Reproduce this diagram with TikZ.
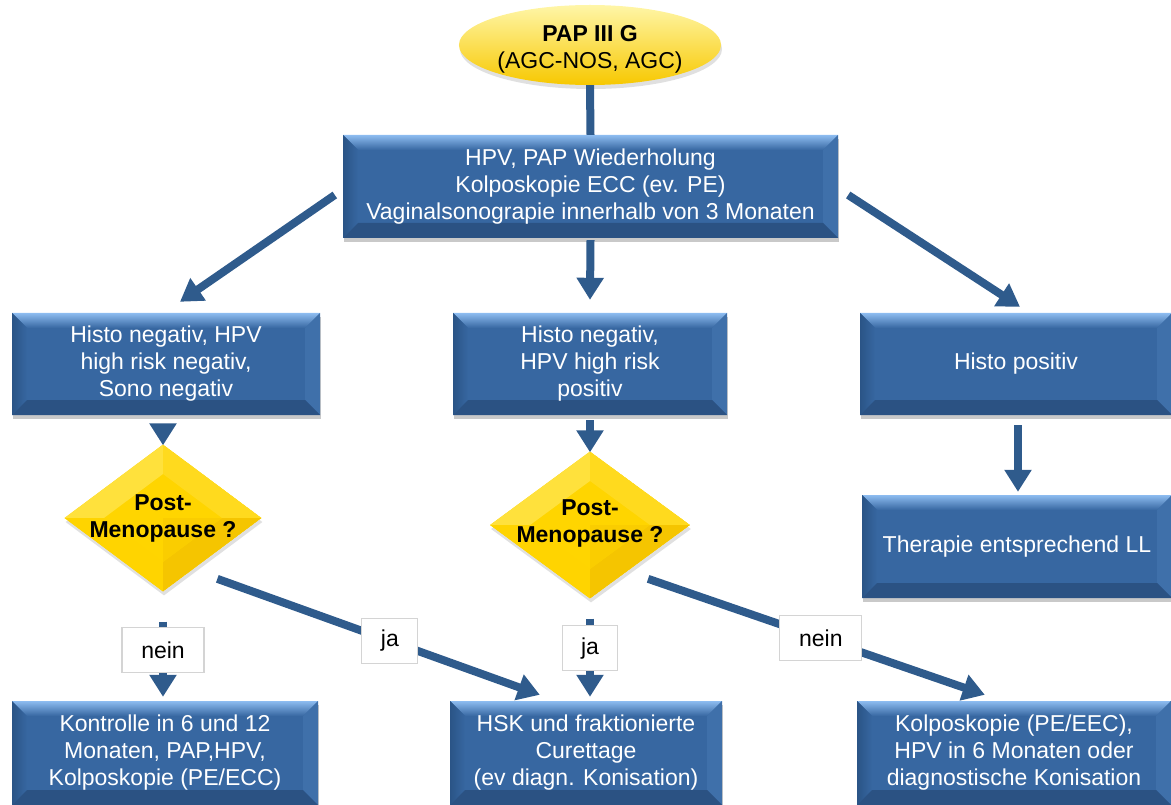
\documentclass[tikz,border=0pt]{standalone}
\usepackage{fontspec}
\setmainfont{Liberation Sans}
\usetikzlibrary{shapes.geometric,arrows.meta,shadows,calc}

\definecolor{boxmain}{HTML}{3767A1}
\definecolor{bevtop}{HTML}{8DBCF0}
\definecolor{bevleft}{HTML}{2A5486}
\definecolor{bevright}{HTML}{3F70AA}
\definecolor{bevbot}{HTML}{2B5283}
\definecolor{arrowc}{HTML}{2F5B8C}
\definecolor{goldmain}{HTML}{FFD500}
\definecolor{goldUL}{HTML}{FFE13C}
\definecolor{goldUR}{HTML}{FFDA1E}
\definecolor{goldLL}{HTML}{FFD400}
\definecolor{goldLR}{HTML}{F5C500}
\definecolor{ovaltop}{HTML}{FFF6A8}
\definecolor{ovalmid}{HTML}{FFE400}
\definecolor{ovalbot}{HTML}{F7C800}
\definecolor{lblborder}{HTML}{D4D4D4}

% stacked text, lowered by #1, that does not enlarge its shape
\newcommand{\flattext}[2]{\smash{\raisebox{#1}{\begin{tabular}[c]{@{}c@{}}#2\end{tabular}}}}

\begin{document}
\begin{tikzpicture}[x=1pt,y=-1pt,
  txt/.style={font=\fontsize{23}{27}\selectfont},
  bevbox/.style={rectangle, inner sep=0pt, align=center, text=white, txt,
    fill=boxmain,
    drop shadow={shadow xshift=1pt, shadow yshift=-4pt, opacity=0.3, fill=black!70},
    path picture={
      \path (path picture bounding box.north west) coordinate (bnw)
            (path picture bounding box.north east) coordinate (bne)
            (path picture bounding box.south west) coordinate (bsw)
            (path picture bounding box.south east) coordinate (bse);
      \path ([shift={(15pt,-15pt)}]bnw) coordinate (inw)
            ([shift={(-15pt,-15pt)}]bne) coordinate (ine)
            ([shift={(15pt,15pt)}]bsw) coordinate (isw)
            ([shift={(-15pt,15pt)}]bse) coordinate (ise);
      \shade[top color=bevtop, bottom color=boxmain] (bnw) -- (bne) -- (ine) -- (inw) -- cycle;
      \shade[left color=bevleft, right color=boxmain] (bnw) -- (inw) -- (isw) -- (bsw) -- cycle;
      \fill[bevright] (bne) -- (ine) -- (ise) -- (bse) -- cycle;
      \fill[bevbot] (bsw) -- (isw) -- (ise) -- (bse) -- cycle;
    }},
  dia/.style={diamond, inner sep=0pt, fill=goldmain, txt, font=\fontsize{23}{27}\selectfont\bfseries,
    drop shadow={shadow xshift=1pt, shadow yshift=-4pt, opacity=0.2, fill=black!60},
    path picture={
      \path (path picture bounding box.north) coordinate (dn)
            (path picture bounding box.south) coordinate (ds)
            (path picture bounding box.east) coordinate (de)
            (path picture bounding box.west) coordinate (dw)
            (path picture bounding box.center) coordinate (dc);
      \path ($(dc)!0.6!(dn)$) coordinate (in) ($(dc)!0.6!(ds)$) coordinate (is)
            ($(dc)!0.6!(de)$) coordinate (ie) ($(dc)!0.6!(dw)$) coordinate (iw);
      \fill[goldUL] (dn) -- (dw) -- (iw) -- (in) -- cycle;
      \fill[goldUR] (dn) -- (de) -- (ie) -- (in) -- cycle;
      \fill[goldLL] (dw) -- (ds) -- (is) -- (iw) -- cycle;
      \fill[goldLR] (de) -- (ds) -- (is) -- (ie) -- cycle;
      \fill[goldLR!50!goldmain] (dc) -- (is) -- (ie) -- cycle;
    }},
  arr/.style={draw=arrowc, line width=8pt, -{Triangle[width=26pt,length=22pt]}},
  plainline/.style={draw=arrowc, line width=8pt},
  lbl/.style={rectangle, draw=lblborder, line width=1.2pt, fill=white, txt,
    inner sep=0pt, minimum height=45pt}
]
\useasboundingbox (0,0) rectangle (1171,805);

% start node
\node[ellipse, minimum width=235pt, minimum height=80pt, inner sep=0pt,
      top color=ovaltop, middle color=ovalmid, bottom color=ovalbot,
      drop shadow={shadow xshift=1pt, shadow yshift=-4pt, opacity=0.2, fill=black!60},
      txt] (pap) at (590,45) {\flattext{-10.5pt}{\textbf{PAP III G}\\(AGC-NOS, AGC)}};

% boxes
\node[bevbox, minimum width=495pt, minimum height=103pt] (top) at (590.5,186.5)
  {HPV, PAP Wiederholung\\Kolposkopie ECC (ev. PE)\\Vaginalsonograpie innerhalb von 3 Monaten};
\node[bevbox, minimum width=308pt, minimum height=102pt] (l2) at (166,364)
  {Histo negativ, HPV\\high risk negativ,\\Sono negativ};
\node[bevbox, minimum width=274pt, minimum height=102pt] (m2) at (590,364)
  {Histo negativ,\\HPV high risk\\positiv};
\node[bevbox, minimum width=312pt, minimum height=102pt] (r2) at (1016,364)
  {Histo positiv};
\node[bevbox, minimum width=310pt, minimum height=103pt] (ther) at (1017,546.5)
  {Therapie entsprechend LL};
\node[bevbox, minimum width=306pt, minimum height=104pt] (b1) at (165,753)
  {Kontrolle in 6 und 12\\Monaten, PAP,HPV,\\Kolposkopie (PE/ECC)};
\node[bevbox, minimum width=272pt, minimum height=104pt] (b2) at (586,753)
  {HSK und fraktionierte\\Curettage\\(ev diagn. Konisation)};
\node[bevbox, minimum width=314pt, minimum height=104pt] (b3) at (1014,753)
  {Kolposkopie (PE/EEC),\\HPV in 6 Monaten oder\\diagnostische Konisation};

% decisions
\node[dia, minimum width=197pt, minimum height=113pt] (d1) at (163,518)
  {\flattext{-6.5pt}{Post-\\Menopause ?}};
\node[dia, minimum width=200pt, minimum height=120pt] (d2) at (590,525)
  {\flattext{-5pt}{Post-\\Menopause ?}};

% connectors
\draw[plainline] (pap.south) -- (top.north);
\draw[arr] ($(top.south)+(0,2)$) -- ($(m2.north)+(0,-13)$);
\draw[arr] ($(top.west)+(-8,8.5)$) -- ($(l2.north)+(14,-11)$);
\draw[arr] ($(top.east)+(10,8.5)$) -- ($(r2.north)+(4,-6)$);
\draw[arr] ($(l2.south)+(-3,10)$) -- ($(d1.north)+(0,1)$);
\draw[arr] ($(m2.south)+(0,5)$) -- ($(d2.north)+(0,1)$);
\draw[arr] ($(r2.south)+(2,10)$) -- ($(ther.north)+(1,-3)$);

\draw[arr] ($(d1.south)+(0,30)$) -- ($(b1.north)+(-2,-4)$)
  node[lbl, minimum width=82pt, pos=0.38] (n1) {nein};
\draw[arr] ($(d1.south east)+(5,24)$) -- ($(b2.north west)+(90,-6)$)
  node[lbl, minimum width=56pt, pos=0.535] (j1) {ja};
\draw[arr] ($(d2.south)+(0,20)$) -- ($(b2.north)+(4,-4)$)
  node[lbl, minimum width=55pt, pos=0.38] (j2) {ja};
\draw[arr] ($(d2.south east)+(8,17)$) -- ($(b3.north west)+(128,-6)$)
  node[lbl, minimum width=82pt, pos=0.513] (n2) {nein};
\end{tikzpicture}
\end{document}
